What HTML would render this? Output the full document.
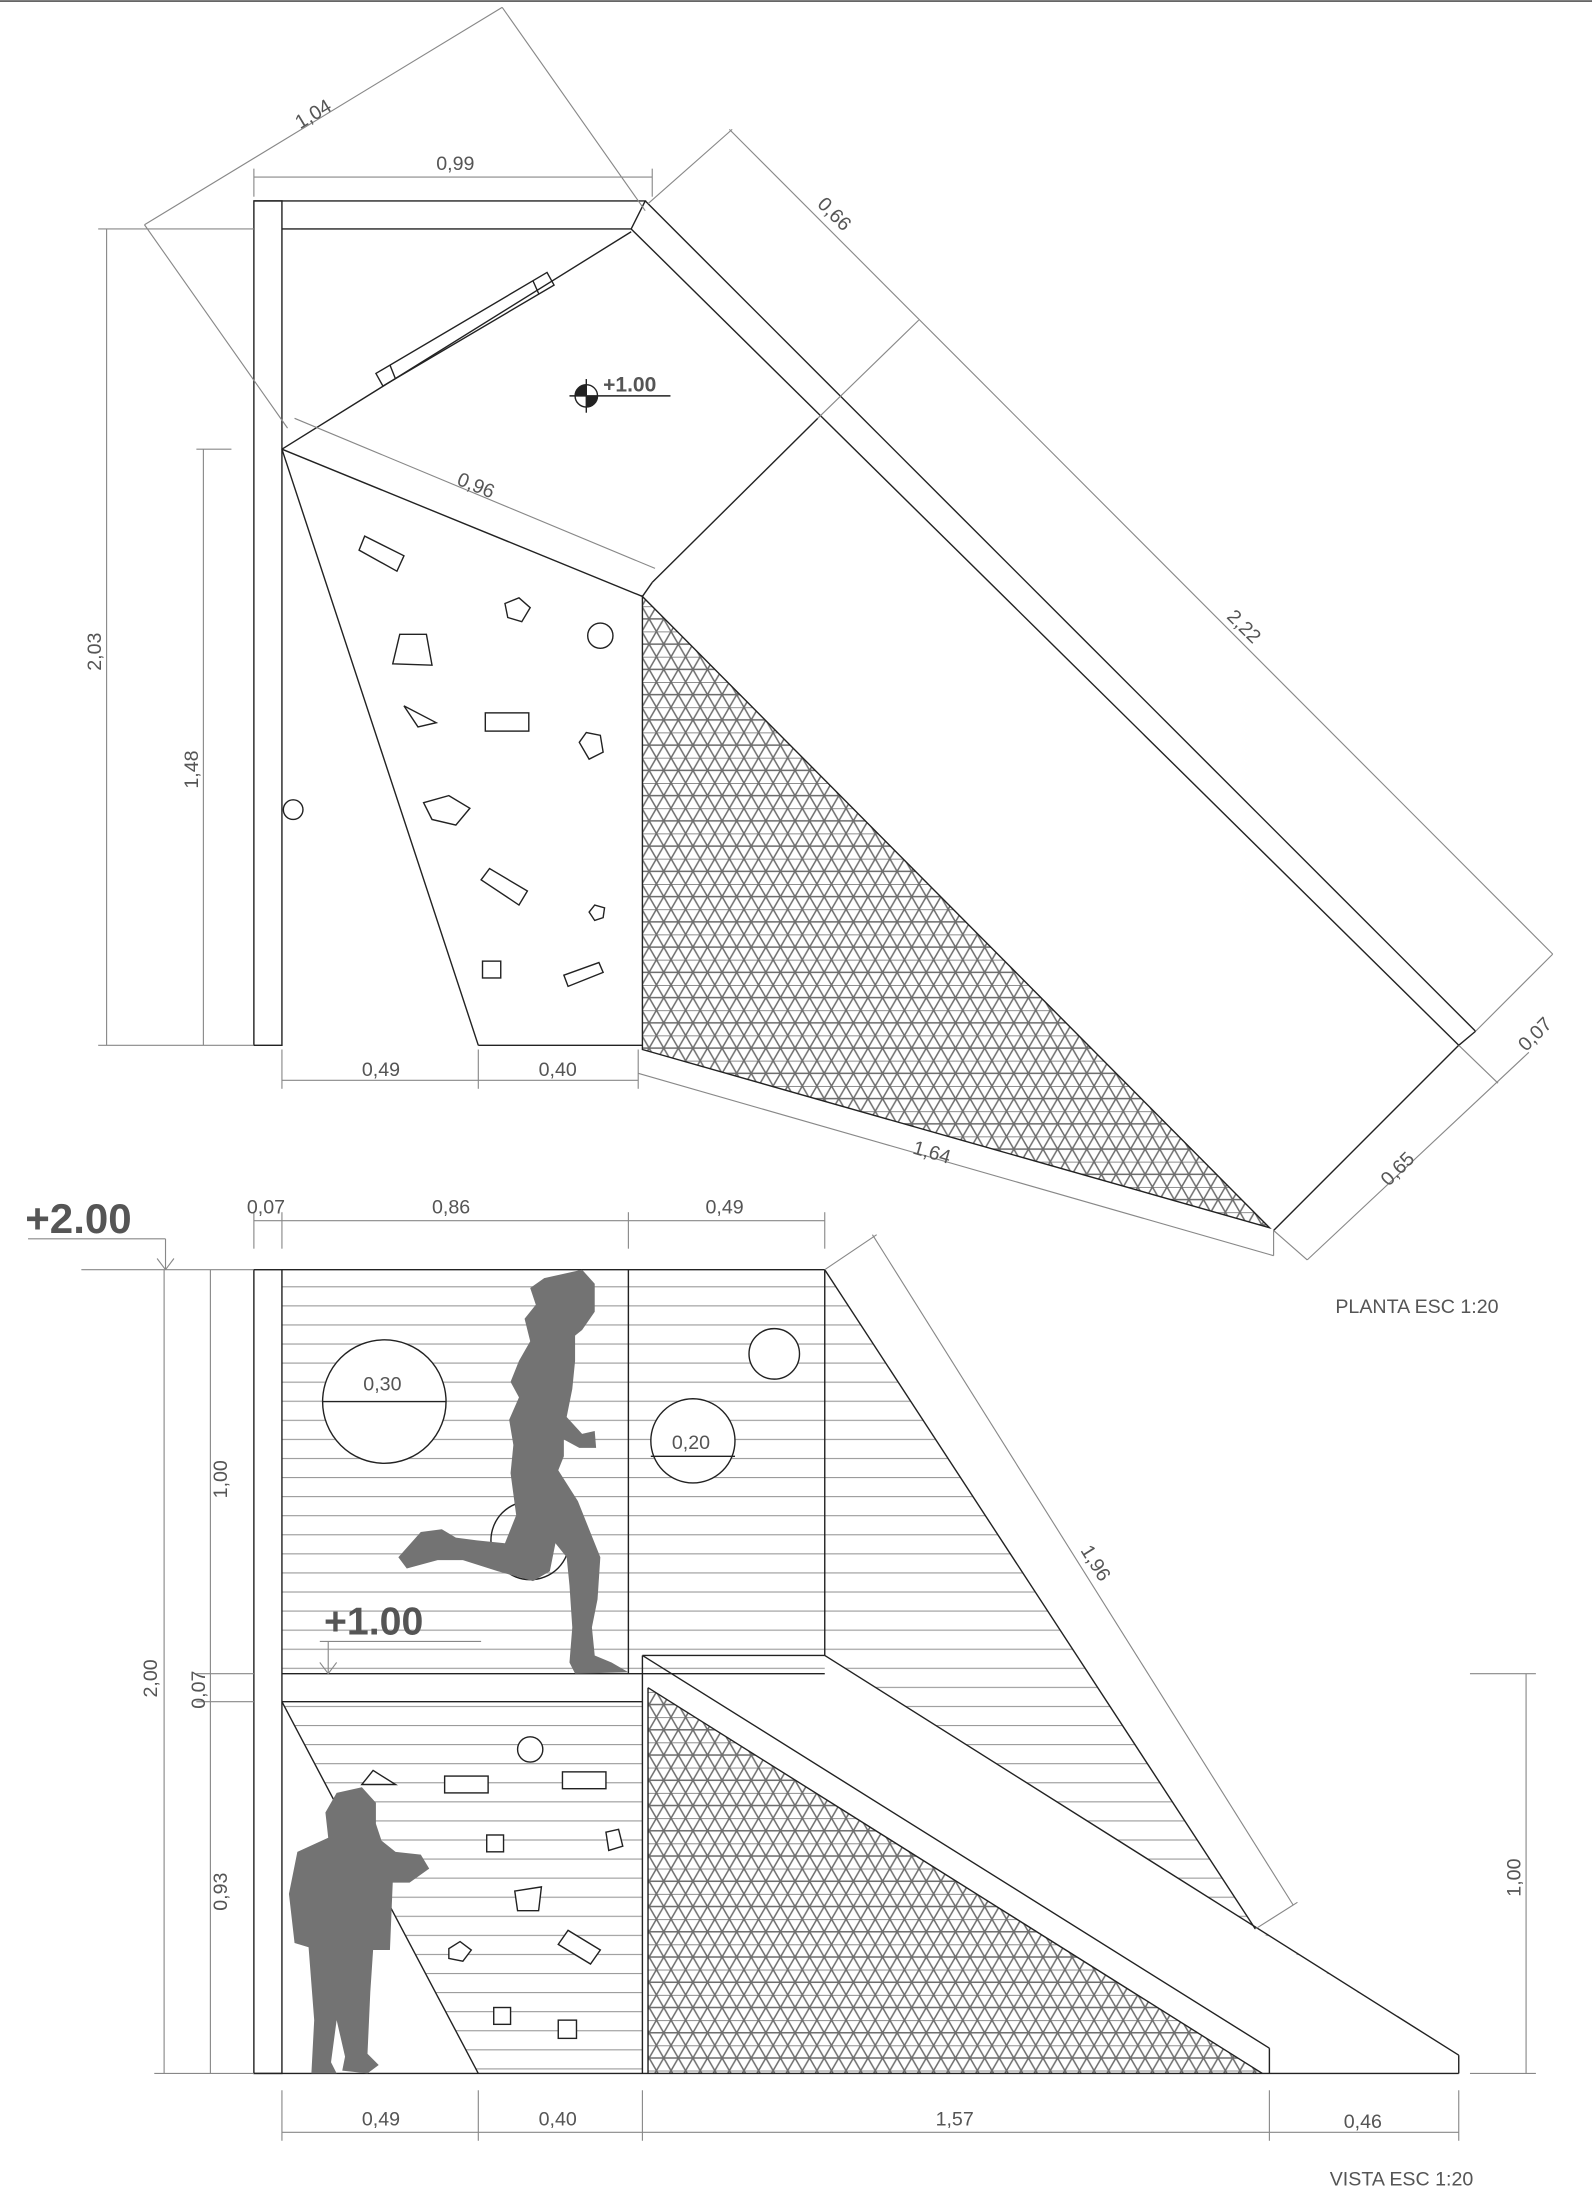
<!DOCTYPE html>
<html><head><meta charset="utf-8"><style>
html,body{margin:0;padding:0;background:#fff;}
svg{display:block;}
text{font-family:"Liberation Sans",sans-serif;fill:#555;}
</style></head><body>
<svg width="1592" height="2200" viewBox="0 0 1135 1568" xmlns="http://www.w3.org/2000/svg">
<defs>
<pattern id="tri" width="10.4" height="18" patternUnits="userSpaceOnUse">
<g stroke="#6e6e6e" stroke-width="1.1" fill="none">
<line x1="0" y1="0" x2="10.4" y2="0"/><line x1="0" y1="9" x2="10.4" y2="9"/>
<line x1="0" y1="0" x2="10.4" y2="18"/><line x1="0" y1="18" x2="10.4" y2="0"/>
</g></pattern>
<pattern id="str" width="20" height="13.6" patternUnits="userSpaceOnUse">
<line x1="0" y1="6" x2="20" y2="6" stroke="#999" stroke-width="0.8"/></pattern>
</defs>
<line x1="0" y1="0.5" x2="1135" y2="0.5" stroke="#333"/>
<g stroke="#222" stroke-width="1" fill="none">
<rect x="181" y="143" width="20" height="602"/>
<polyline points="201,163 450,163 460,143 181,143"/>
<line x1="460" y1="143" x2="1052" y2="735"/>
<line x1="450" y1="163" x2="1040" y2="745"/>
<line x1="1052" y1="735" x2="1040" y2="745"/>
<line x1="1040" y1="745" x2="908" y2="877"/>
<polygon points="458,425 458,748 905,875" fill="url(#tri)" stroke="#222"/>
<polyline points="201,320 450,165"/>
<polyline points="201,320 458,425"/>
<line x1="201" y1="320" x2="341" y2="745"/>
<line x1="341" y1="745" x2="458" y2="745"/>
<line x1="465" y1="415" x2="583" y2="298"/>
<line x1="465" y1="415" x2="458" y2="425"/>
<polygon points="268,266 390,194 395,203 273,275"/>
<line x1="278" y1="260" x2="282" y2="270"/><line x1="380" y1="200" x2="384" y2="209"/>
<circle cx="209" cy="577" r="7"/>
<polygon points="256,392 260,382 288,396 283,407"/>
<polygon points="360,430 370,426 378,433 372,443 362,440"/>
<polygon points="280,473 285,452 304,452 308,474"/>
<circle cx="428" cy="453" r="9"/>
<polygon points="288,503 298,518 311,515"/>
<rect x="346" y="508" width="31" height="13"/>
<polygon points="413,529 418,522 428,524 430,536 420,541"/>
<polygon points="302,572 320,567 335,576 325,588 308,584"/>
<polygon points="343,627 349,619 376,635 370,645"/>
<polygon points="420,650 424,645 431,647 430,654 424,656"/>
<rect x="344" y="685" width="13" height="12"/>
<polygon points="402,695 427,686 430,693 405,703"/>
</g>
<g stroke="#222" fill="none"><circle cx="418" cy="282" r="8"/><line x1="406" y1="282" x2="478" y2="282"/><line x1="418" y1="270" x2="418" y2="294"/></g>
<path d="M418,274 A8,8 0 0 0 410,282 L418,282Z M418,282 L426,282 A8,8 0 0 1 418,290Z" fill="#222"/>
<text x="430" y="279" font-size="15" font-weight="bold" fill="#444">+1.00</text>
<g stroke="#888" stroke-width="0.8" fill="none">
<line x1="181" y1="126" x2="465" y2="126"/><line x1="181" y1="120" x2="181" y2="140"/><line x1="465" y1="120" x2="465" y2="140"/>
<line x1="103" y1="160" x2="358" y2="5"/><line x1="103" y1="160" x2="205" y2="305"/><line x1="358" y1="5" x2="460" y2="150"/>
<line x1="520" y1="92" x2="1107" y2="680"/><line x1="583" y1="298" x2="655" y2="228"/><line x1="462" y1="145" x2="522" y2="92"/><line x1="1052" y1="735" x2="1107" y2="680"/>
<line x1="1090" y1="750" x2="932" y2="898"/><line x1="1040" y1="745" x2="1068" y2="772"/><line x1="908" y1="877" x2="932" y2="898"/>
<line x1="455" y1="765" x2="908" y2="895"/><line x1="908" y1="877" x2="908" y2="895"/>
<line x1="201" y1="770" x2="455" y2="770"/><line x1="201" y1="748" x2="201" y2="776"/><line x1="341" y1="748" x2="341" y2="776"/><line x1="455" y1="748" x2="455" y2="776"/>
<line x1="76" y1="163" x2="76" y2="745"/><line x1="70" y1="163" x2="181" y2="163"/><line x1="70" y1="745" x2="181" y2="745"/>
<line x1="145" y1="320" x2="145" y2="745"/><line x1="140" y1="320" x2="165" y2="320"/>
<line x1="210" y1="298" x2="467" y2="405"/>
</g>
<g font-size="14">
<text x="311" y="121">0,99</text>
<text transform="translate(214,92) rotate(-31)">1,04</text>
<text transform="translate(582,146) rotate(45)">0,66</text>
<text transform="translate(874,440) rotate(45)">2,22</text>
<text transform="translate(1088,750) rotate(-45)">0,07</text>
<text transform="translate(990,846) rotate(-45)">0,65</text>
<text transform="translate(650,822) rotate(16)">1,64</text>
<text x="258" y="767">0,49</text><text x="384" y="767">0,40</text>
<text transform="translate(72,478) rotate(-90)">2,03</text>
<text transform="translate(141,562) rotate(-90)">1,48</text>
<text transform="translate(325,345) rotate(22)">0,96</text>
<text x="952" y="936" fill="#222">PLANTA ESC 1:20</text>
</g>
<rect x="201" y="905" width="387" height="288" fill="url(#str)"/>
<polygon points="588,905 588,1180 1040,1465 895,1375" fill="url(#str)"/>
<polygon points="201,1213 458,1213 458,1478 341,1478" fill="url(#str)"/>
<polygon points="462,1203 462,1478 900,1478" fill="url(#tri)"/>
<g stroke="#222" stroke-width="1" fill="none">
<rect x="181" y="905" width="20" height="573"/>
<line x1="201" y1="905" x2="588" y2="905"/>
<line x1="448" y1="905" x2="448" y2="1193"/>
<line x1="588" y1="905" x2="588" y2="1180"/>
<line x1="588" y1="905" x2="895" y2="1375"/>
<line x1="201" y1="1193" x2="588" y2="1193"/>
<line x1="201" y1="1213" x2="458" y2="1213"/>
<line x1="458" y1="1180" x2="458" y2="1478"/>
<line x1="462" y1="1203" x2="462" y2="1478"/>
<line x1="458" y1="1180" x2="588" y2="1180"/>
<line x1="588" y1="1180" x2="1040" y2="1465"/>
<line x1="458" y1="1180" x2="905" y2="1460"/>
<line x1="462" y1="1203" x2="900" y2="1478"/>
<line x1="905" y1="1460" x2="905" y2="1478"/>
<line x1="1040" y1="1465" x2="1040" y2="1478"/>
<line x1="181" y1="1478" x2="1040" y2="1478"/>
<line x1="201" y1="1213" x2="341" y2="1478"/>
<circle cx="274" cy="999" r="44" fill="#fff"/><line x1="230" y1="999" x2="318" y2="999"/>
<circle cx="552" cy="965" r="18" fill="#fff"/>
<circle cx="494" cy="1027" r="30" fill="#fff"/><line x1="464" y1="1038" x2="524" y2="1038"/>
<circle cx="378" cy="1098" r="28"/>
<circle cx="378" cy="1247" r="9" fill="#fff"/>
<rect x="317" y="1266" width="31" height="12" fill="#fff"/>
<rect x="401" y="1263" width="31" height="12" fill="#fff"/>
<polygon points="258,1272 266,1262 282,1272" fill="#fff"/>
<rect x="347" y="1308" width="12" height="12" fill="#fff"/>
<polygon points="432,1306 441,1304 444,1316 434,1319" fill="#fff"/>
<polygon points="367,1348 386,1345 384,1362 369,1362" fill="#fff"/>
<polygon points="320,1389 328,1384 336,1390 330,1398 320,1396" fill="#fff"/>
<polygon points="398,1386 405,1376 428,1390 421,1400" fill="#fff"/>
<rect x="352" y="1431" width="12" height="12" fill="#fff"/>
<rect x="398" y="1440" width="13" height="13" fill="#fff"/>
</g>
<path fill="#737373" d="M388,911 L415,905 L424,915 L424,935 L415,948 L410,952 L410,970 L408,990 L404,1010 L415,1022 L424,1020 L425,1032 L413,1032 L402,1026 L402,1038 L398,1048 L412,1070 L420,1090 L428,1110 L426,1140 L422,1160 L424,1180 L436,1185 L448,1192 L410,1193 L406,1185 L408,1160 L406,1130 L404,1110 L396,1100 L392,1120 L380,1127 L355,1120 L330,1112 L312,1112 L290,1118 L284,1110 L300,1092 L315,1090 L325,1096 L340,1098 L360,1100 L368,1080 L364,1050 L366,1030 L363,1012 L370,996 L364,985 L370,970 L378,956 L374,940 L382,930 L378,918Z"/>
<path fill="#737373" d="M240,1278 L258,1274 L268,1285 L268,1300 L272,1312 L282,1320 L300,1322 L306,1332 L292,1342 L280,1342 L278,1390 L266,1390 L264,1420 L262,1464 L270,1472 L262,1478 L244,1476 L246,1466 L240,1440 L236,1470 L240,1478 L222,1478 L224,1440 L220,1388 L210,1385 L206,1350 L212,1320 L234,1310 L232,1292Z"/>
<g stroke="#888" stroke-width="0.8" fill="none">
<line x1="181" y1="870" x2="588" y2="870"/>
<line x1="181" y1="864" x2="181" y2="890"/><line x1="201" y1="864" x2="201" y2="890"/><line x1="448" y1="864" x2="448" y2="890"/><line x1="588" y1="864" x2="588" y2="890"/>
<line x1="58" y1="905" x2="181" y2="905"/>
<line x1="20" y1="883" x2="118" y2="883"/><line x1="118" y1="883" x2="118" y2="905"/><line x1="112" y1="897" x2="118" y2="905"/><line x1="124" y1="897" x2="118" y2="905"/>
<line x1="117" y1="905" x2="117" y2="1478"/><line x1="110" y1="1478" x2="181" y2="1478"/>
<line x1="150" y1="905" x2="150" y2="1478"/><line x1="140" y1="1193" x2="181" y2="1193"/><line x1="140" y1="1213" x2="181" y2="1213"/>
<line x1="1088" y1="1193" x2="1088" y2="1478"/><line x1="1048" y1="1193" x2="1095" y2="1193"/><line x1="1048" y1="1478" x2="1095" y2="1478"/>
<line x1="201" y1="1520" x2="1040" y2="1520"/>
<line x1="201" y1="1490" x2="201" y2="1526"/><line x1="341" y1="1490" x2="341" y2="1526"/><line x1="458" y1="1490" x2="458" y2="1526"/><line x1="905" y1="1490" x2="905" y2="1526"/><line x1="1040" y1="1490" x2="1040" y2="1526"/>
<line x1="622" y1="880" x2="922" y2="1358"/><line x1="588" y1="905" x2="625" y2="880"/><line x1="895" y1="1375" x2="925" y2="1356"/>
<line x1="228" y1="1170" x2="343" y2="1170"/><line x1="234" y1="1170" x2="234" y2="1193"/><line x1="228" y1="1185" x2="234" y2="1193"/><line x1="240" y1="1185" x2="234" y2="1193"/>
</g>
<g font-size="14">
<text x="176" y="865">0,07</text><text x="308" y="865">0,86</text><text x="503" y="865">0,49</text>
<text x="18" y="879" font-size="30" font-weight="bold" fill="#666">+2.00</text>
<text x="231" y="1165" font-size="28" font-weight="bold" fill="#666">+1.00</text>
<text x="259" y="991">0,30</text><text x="479" y="1033">0,20</text>
<text transform="translate(162,1068) rotate(-90)">1,00</text>
<text transform="translate(112,1210) rotate(-90)">2,00</text>
<text transform="translate(146,1218) rotate(-90)">0,07</text>
<text transform="translate(162,1362) rotate(-90)">0,93</text>
<text transform="translate(1084,1352) rotate(-90)">1,00</text>
<text transform="translate(770,1105) rotate(58)">1,96</text>
<text x="258" y="1515">0,49</text><text x="384" y="1515">0,40</text><text x="667" y="1515">1,57</text><text x="958" y="1517">0,46</text>
<text x="948" y="1558" fill="#222">VISTA ESC 1:20</text>
</g>
</svg>
</body></html>
